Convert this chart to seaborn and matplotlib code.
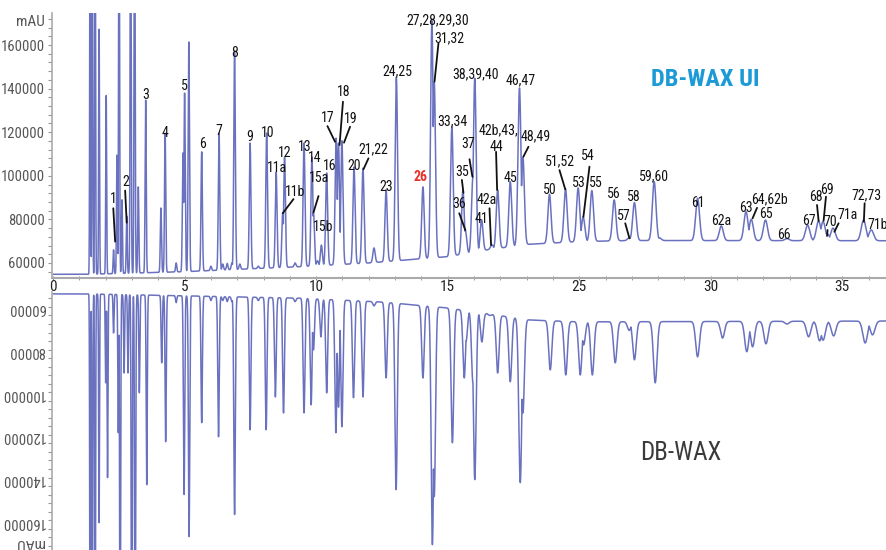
import numpy as np
import matplotlib
matplotlib.use("Agg")
import matplotlib.pyplot as plt
from matplotlib.ticker import MultipleLocator
import seaborn as sns

# retention positions (axis units) and apex heights (mAU) for DB-WAX UI (top)
top_rt = [1.41, 1.49, 1.60, 1.75, 2.02, 2.30, 2.43, 2.51, 2.62, 2.80, 2.95, 3.10, 3.24,
          3.52, 4.10, 4.26, 4.68, 4.94, 5.00, 5.16, 5.65, 6.00, 6.31, 6.45, 6.62, 6.80,
          6.90, 7.10, 7.49, 7.80, 8.12, 8.48, 8.73, 8.80, 9.20, 9.54, 9.84, 9.90, 10.05,
          10.20, 10.40, 10.76, 10.85, 10.98, 11.44, 11.78, 12.20, 12.66, 13.05, 14.06,
          14.40, 14.49, 15.16, 15.58, 15.67, 15.96, 16.03, 16.29, 16.68, 16.90, 17.38,
          17.73, 17.86, 18.87, 19.48, 19.96, 20.15, 20.48, 21.33, 21.90, 22.10, 22.85,
          23.05, 24.50, 25.40, 26.34, 26.54, 27.08, 27.90, 28.68, 29.10, 29.27, 29.42,
          29.65, 30.81, 31.10]
top_height = [250000, 250000, 250000, 167300, 137000, 66000, 109500, 250000, 89000, 81500,
              250000, 250000, 94900, 134800, 85200, 119600, 60000, 110500, 138000, 161400,
              111000, 58500, 119600, 59500, 59800, 60000, 156300, 59500, 115000, 58500,
              119600, 101700, 82900, 108600, 60000, 115000, 108600, 83000, 61000, 68200,
              101300, 117300, 115000, 116100, 104000, 103500, 66900, 93500, 145300, 94900,
              171000, 143000, 122400, 93500, 75100, 99500, 144800, 79700, 68300, 93500,
              97200, 140300, 108600, 91500, 94000, 94400, 81200, 93200, 88900, 71500,
              87700, 97300, 71500, 89700, 77000, 83500, 80000, 79700, 71200, 77400, 79300,
              79000, 73500, 76000, 79700, 75200]
top_base_t = [0, 1.4, 5, 9.4, 12, 15, 16.5, 18, 20, 22, 31.7]
top_base_v = [54800, 54800, 56000, 58300, 60000, 62900, 66000, 68500, 69800, 70300, 70200]

# DB-WAX (bottom, mirrored)
bot_rt = [1.41, 1.49, 1.60, 1.75, 2.00, 2.07, 2.30, 2.48, 2.55, 2.70, 2.85, 2.99, 3.12,
          3.28, 3.56, 4.13, 4.28, 4.68, 4.98, 5.17, 5.65, 6.00, 6.29, 6.45, 6.62, 6.80,
          6.90, 7.49, 7.80, 8.10, 8.45, 8.76, 9.20, 9.54, 9.81, 9.90, 10.18, 10.40, 10.75,
          10.85, 10.98, 11.42, 11.78, 12.20, 12.66, 13.04, 14.06, 14.42, 14.49, 15.18,
          15.63, 15.70, 15.96, 16.03, 16.30, 16.60, 16.90, 17.38, 17.76, 17.86, 18.90,
          19.49, 20.04, 20.17, 20.50, 21.37, 21.90, 22.10, 22.89, 24.50, 25.45, 26.37,
          26.59, 27.10, 27.90, 28.72, 29.14, 29.27, 29.67, 30.87, 31.15]
bot_height = [250000, 250000, 250000, 161200, 95600, 140100, 72200, 119000, 250000, 91000,
              91000, 250000, 250000, 100300, 143400, 86200, 123200, 58000, 148000, 167700,
              114300, 57000, 120900, 57000, 57500, 57500, 157400, 117600, 57000, 117600,
              102200, 109700, 57500, 109700, 105900, 80100, 74000, 100300, 119000, 107000,
              116200, 102600, 102200, 59500, 93300, 145700, 93300, 171500, 149000, 123700,
              93300, 76000, 95600, 141000, 76400, 64000, 91000, 95100, 142400, 109700, 89500,
              91900, 91900, 77800, 91900, 86200, 71000, 84800, 95600, 83400, 74600, 81000,
              78700, 77300, 68000, 74000, 75900, 75600, 73600, 76900, 73100]
bot_base_t = [0, 1.4, 5, 9.4, 12.5, 15, 16.3, 18.1, 20, 31.7]
bot_base_v = [53900, 53900, 54800, 55900, 57700, 60500, 62800, 66100, 67000, 66600]

# peak labels: text, text position, optional leader (from label to peak)
label_text = ["1", "2", "3", "4", "5", "6", "7", "8", "9", "10", "11a", "12", "11b", "13",
              "14", "15a", "15b", "16", "17", "18", "19", "20", "21,22", "23", "24,25", "26",
              "27,28,29,30", "31,32", "33,34", "35", "36", "37", "38,39,40", "41", "42a",
              "42b,43,", "44", "45", "46,47", "48,49", "50", "51,52", "53", "54", "55", "56",
              "57", "58", "59,60", "61", "62a", "63", "64,62b", "65", "66", "67", "68", "69",
              "70", "71a", "72,73", "71b"]
label_x = [2.28, 2.78, 3.54, 4.26, 4.98, 5.67, 6.31, 6.92, 7.49, 8.14, 8.52, 8.82, 9.20,
           9.55, 9.95, 10.13, 10.28, 10.50, 10.44, 11.04, 11.33, 11.44, 12.18, 12.66, 13.07,
           13.98, 14.61, 15.07, 15.20, 15.54, 15.45, 15.79, 16.07, 16.30, 16.49, 16.93,
           16.87, 17.40, 17.79, 18.33, 18.87, 19.28, 19.97, 20.34, 20.65, 21.33, 21.68,
           22.09, 22.86, 24.50, 25.40, 26.32, 27.24, 27.11, 27.79, 28.72, 29.01, 29.42,
           29.54, 30.18, 30.91, 31.36]
label_y = [89300, 97300, 137100, 119600, 141200, 114600, 120600, 156300, 117800, 119600,
           103600, 110500, 92700, 113000, 108000, 98800, 76600, 104600, 126400, 138600,
           126100, 104600, 112300, 94700, 148100, 99600, 171500, 163100, 124800, 101900,
           87100, 114600, 146700, 80200, 88900, 120700, 113400, 98900, 144000, 117900,
           93500, 106500, 96800, 109100, 96800, 91600, 81500, 90100, 99600, 87700, 79300,
           85100, 89200, 82500, 72800, 79400, 90100, 93500, 78900, 82000, 91200, 77400]
leaders = {
    "1": ((2.29, 85100), (2.36, 69800)),
    "2": ((2.74, 93200), (2.80, 78500)),
    "11b": ((9.14, 89300), (8.73, 82800)),
    "15a": ((10.09, 90700), (9.90, 83200)),
    "17": ((10.43, 122800), (10.72, 115600)),
    "18": ((11.02, 134000), (10.89, 114100)),
    "19": ((11.29, 122500), (11.06, 115200)),
    "21,22": ((11.99, 108000), (11.80, 103000)),
    "31,32": ((14.65, 160800), (14.50, 143200)),
    "35": ((15.54, 98100), (15.60, 92200)),
    "36": ((15.44, 82800), (15.67, 75100)),
    "37": ((15.83, 107600), (15.94, 99600)),
    "42a": ((16.59, 85100), (16.65, 68200)),
    "44": ((16.84, 111000), (16.88, 93500)),
    "48,49": ((18.07, 113300), (17.88, 108800)),
    "51,52": ((19.25, 102600), (19.47, 93800)),
    "54": ((20.39, 104200), (20.16, 81200)),
    "57": ((21.75, 78200), (21.91, 71300)),
    "64,62b": ((26.76, 85300), (26.59, 80500)),
    "68": ((29.04, 86600), (29.10, 79300)),
    "69": ((29.38, 90400), (29.29, 79400)),
    "70": ((29.44, 75100), (29.42, 72400)),
    "71a": ((29.86, 78200), (29.70, 74300)),
    "72,73": ((30.85, 87400), (30.82, 78900)),
}

x_ticks = [0, 5, 10, 15, 20, 25, 30]
x_tick_labels = ["0", "5", "10", "15", "25", "30", "35"]
y_ticks = [60000, 80000, 100000, 120000, 140000, 160000]

line_color = "#6a72c0"

sns.set_style("white")
plt.rcParams["font.family"] = ["Roboto Condensed", "Roboto", "DejaVu Sans"]

t = np.linspace(0, 31.7, 16000)


def trace(rts, heights, base_t, base_v):
  base = np.interp(t, base_t, base_v)
  rts = np.asarray(rts)[:, None]
  amp = np.asarray(heights)[:, None] - np.interp(rts, base_t, base_v)
  sigma = 0.012 + 0.0025 * rts
  peaks = amp * np.exp(-0.5 * ((t[None, :] - rts) / sigma) ** 2)
  return base + peaks.max(axis=0)


fig = plt.figure(figsize=(8.87, 5.5), dpi=100)
ax_top = fig.add_axes([52 / 887, 1 - 278 / 550, 835 / 887, 265 / 550])
ax_bot = fig.add_axes([52 / 887, 0, 835 / 887, 258 / 550])

sns.lineplot(x=t, y=trace(top_rt, top_height, top_base_t, top_base_v), ax=ax_top,
             color=line_color, linewidth=1.1, sort=False)
sns.lineplot(x=t, y=trace(bot_rt, bot_height, bot_base_t, bot_base_v), ax=ax_bot,
             color=line_color, linewidth=1.1, sort=False)

for ax in (ax_top, ax_bot):
  ax.set_xlim(-0.04, 31.7)
  ax.set_yticks(y_ticks)
  ax.set_yticklabels([str(v) for v in y_ticks])
  ax.yaxis.set_minor_locator(MultipleLocator(4000))
  ax.tick_params(axis="y", which="both", left=True, length=3, width=0.8, color="#999999",
                 labelsize=10.5, labelcolor="#555555", pad=2)
  ax.set_xlabel("")
  ax.set_ylabel("")
  for side in ("top", "right"):
    ax.spines[side].set_visible(False)
  ax.spines["left"].set_color("#aaaaaa")
  ax.spines["left"].set_linewidth(1.2)

ax_top.set_ylim(53100, 174700)
ax_top.set_xticks(x_ticks)
ax_top.set_xticklabels(x_tick_labels)
ax_top.xaxis.set_minor_locator(MultipleLocator(1))
ax_top.tick_params(axis="x", which="both", bottom=True, direction="inout", length=3,
                   color="#888888", labelsize=11, labelcolor="#222222", pad=0)
ax_top.spines["bottom"].set_color("#aaaaaa")
ax_top.spines["bottom"].set_linewidth(1.5)

ax_bot.set_ylim(174000, 53000)
ax_bot.set_xticks([])
ax_bot.spines["bottom"].set_visible(False)
for lab in ax_bot.get_yticklabels():
  lab.set_rotation(180)

for txt, lx, ly in zip(label_text, label_x, label_y):
  red = txt == "26"
  ax_top.text(lx, ly, txt, ha="center", va="center", fontsize=10,
              color="#e8302a" if red else "#111111",
              fontweight="bold" if red else "normal")
  if txt in leaders:
    (x0, y0), (x1, y1) = leaders[txt]
    ax_top.plot([x0, x1], [y0, y1], color="#111111", linewidth=1.3)

fig.text(30 / 887, 1 - 22 / 550, "mAU", ha="center", va="center", fontsize=11,
         color="#555555")
fig.text(30 / 887, 1 - 543 / 550, "mAU", ha="center", va="center", fontsize=11,
         color="#555555", rotation=180)
fig.text(705 / 887, 1 - 80 / 550, "DB-WAX UI", ha="center", va="center", fontsize=17.5,
         fontweight="bold", color="#1b9ad6")
fig.text(681 / 887, 1 - 453 / 550, "DB-WAX", ha="center", va="center", fontsize=18,
         color="#3a3a3a")

fig.savefig("out.png", dpi=100)
